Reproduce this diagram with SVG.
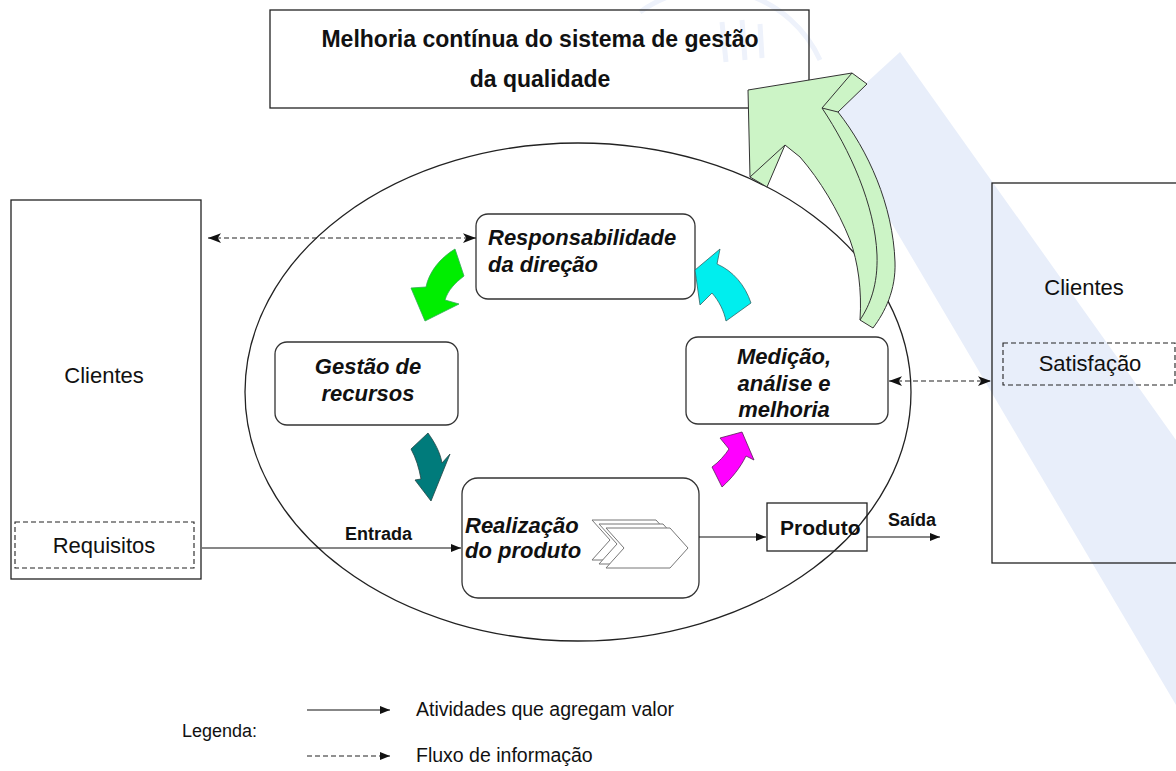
<svg xmlns="http://www.w3.org/2000/svg" width="1176" height="771" viewBox="0 0 1176 771">
<defs>
<style>
.box{fill:none;stroke:#222;stroke-width:1.3}
.rbox{fill:#fff;stroke:#333;stroke-width:1.3}
.dash{fill:none;stroke:#222;stroke-width:1.1;stroke-dasharray:5,3}
.line{fill:none;stroke:#111;stroke-width:1.2}
.t{font-family:"Liberation Sans",Arial,sans-serif;fill:#111}
.bi{font-family:"Liberation Sans",Arial,sans-serif;font-weight:bold;font-style:italic;font-size:22px;fill:#111}
.chev{fill:#fff;stroke:#777;stroke-width:1}
.wm{fill:none;stroke:#eef2fb;stroke-width:5}
</style>
<marker id="ah" viewBox="0 0 10 10" refX="10" refY="5" markerWidth="10" markerHeight="10" markerUnits="userSpaceOnUse" orient="auto-start-reverse">
<path d="M0,1 L10,5 L0,9 Z" fill="#111"/>
</marker>
<marker id="ah2" viewBox="0 0 12 10" refX="12" refY="5" markerWidth="13" markerHeight="11" markerUnits="userSpaceOnUse" orient="auto-start-reverse">
<path d="M0,0.5 L12,5 L0,9.5 L3,5 Z" fill="#111"/>
</marker>
</defs>

<rect x="0" y="0" width="1176" height="771" fill="#fff"/>
<!-- watermark -->
<polygon points="900,52 1176,440 1176,705 829,117" fill="#e8eefa"/>
<path class="wm" d="M640,12 A120,120 0 0 1 820,60"/>
<path class="wm" d="M722,22 L726,62 M742,20 L745,60 M760,24 L762,58"/>

<g id="melhoria">
<rect class="box" x="270" y="10" width="539" height="98"/>
<text class="t" x="540" y="47" font-size="23" font-weight="bold" text-anchor="middle">Melhoria contínua do sistema de gestão</text>
<text class="t" x="540" y="87" font-size="23" font-weight="bold" text-anchor="middle">da qualidade</text>
</g>

<g id="ciclo">
<ellipse cx="578" cy="392" rx="333" ry="249" fill="none" stroke="#222" stroke-width="1.3"/>
</g>

<g id="clientes-esq">
<rect class="box" x="11" y="200" width="190" height="379"/>
<text class="t" x="104" y="383" font-size="22" text-anchor="middle">Clientes</text>
<rect class="dash" x="15" y="522" width="179" height="46"/>
<text class="t" x="104" y="553" font-size="22" text-anchor="middle">Requisitos</text>
</g>

<g id="clientes-dir">
<rect class="box" x="992" y="183" width="200" height="380"/>
<text class="t" x="1084" y="295" font-size="22" text-anchor="middle">Clientes</text>
<rect class="dash" x="1003" y="343" width="172" height="42"/>
<text class="t" x="1090" y="371" font-size="22" text-anchor="middle">Satisfação</text>
</g>

<g id="responsabilidade">
<rect class="rbox" x="476" y="214" width="219" height="85" rx="12"/>
<text class="bi" x="488" y="245">Responsabilidade</text>
<text class="bi" x="488" y="272">da direção</text>
</g>

<g id="gestao">
<rect class="rbox" x="275" y="342" width="183" height="83" rx="12"/>
<text class="bi" x="368" y="374" text-anchor="middle">Gestão de</text>
<text class="bi" x="368" y="401" text-anchor="middle">recursos</text>
</g>

<g id="medicao">
<rect class="rbox" x="686" y="337" width="202" height="87" rx="12"/>
<text class="bi" x="784" y="364" text-anchor="middle">Medição,</text>
<text class="bi" x="784" y="391" text-anchor="middle">análise e</text>
<text class="bi" x="784" y="417" text-anchor="middle">melhoria</text>
</g>

<g id="realizacao">
<rect class="rbox" x="462" y="478" width="237" height="120" rx="16"/>
<text class="bi" x="465" y="533">Realização</text>
<text class="bi" x="465" y="558">do produto</text>
<path class="chev" d="M592,520 L656,520 L674,540 L656,560 L592,560 L610,540 Z"/>
<path class="chev" d="M599,524 L663,524 L681,544 L663,564 L599,564 L617,544 Z"/>
<path class="chev" d="M606,528 L670,528 L688,548 L670,568 L606,568 L624,548 Z"/>
</g>

<g id="produto">
<rect x="767" y="503" width="100" height="48" fill="none" stroke="#222" stroke-width="1.3"/>
<text class="t" x="780" y="535" font-size="21" font-weight="bold">Produto</text>
</g>

<g id="setas-ciclo">
<path d="M455,249 C440,258 429,272 426,287 L411,288 L425,321 L459,304 L445,300 C448,290 455,283 464,276 Z" fill="#00ee00" stroke="#3a5" stroke-width="0.8"/>
<path d="M720,249 L695,270 L700,305 L712,293 C719,301 724,311 726,321 L751,303 C745,285 733,271 717,264 Z" fill="#00eeee" stroke="#366" stroke-width="0.8"/>
<path d="M411,449 L428,433 C435,443 440,452 442,463 L450,454 L431,501 L415,480 L421,479 C419,468 416,458 411,449 Z" fill="#007b7b" stroke="#244" stroke-width="0.8"/>
<path d="M720,438 L742,432 L754,460 L746,456 C740,468 732,478 722,487 L712,467 C719,462 725,455 729,449 Z" fill="#ff00ff" stroke="#525" stroke-width="0.8"/>
</g>

<g id="seta-melhoria">
<path d="M748,90 L852,73 L867,84 L838,112 C868,150 893,205 895,262 C896,290 885,312 873,328 L860,320 C862,290 858,262 850,240 C838,210 820,180 800,157 L785,145 L767,187 L750,177 Z" fill="#ccf4c6" stroke="#333" stroke-width="1"/>
<path d="M852,73 L822,108 L838,112 M822,108 C850,150 875,205 877,255 C878,285 870,305 860,320 M750,177 L785,145" fill="none" stroke="#333" stroke-width="1"/>
</g>

<g id="conectores">
<line class="line" x1="202" y1="548" x2="461" y2="548" marker-end="url(#ah)"/>
<line class="line" x1="699" y1="537" x2="766" y2="537" marker-end="url(#ah)"/>
<line class="line" x1="867" y1="537" x2="940" y2="537" marker-end="url(#ah)"/>
<line class="dash" x1="208" y1="238" x2="476" y2="238" marker-start="url(#ah2)" marker-end="url(#ah2)"/>
<line class="dash" x1="889" y1="381" x2="991" y2="381" marker-start="url(#ah2)" marker-end="url(#ah2)"/>
<text class="t" x="345" y="540" font-size="18" font-weight="bold">Entrada</text>
<text class="t" x="888" y="526" font-size="18" font-weight="bold">Saída</text>
</g>

<g id="legenda">
<text class="t" x="182" y="737" font-size="18">Legenda:</text>
<line class="line" x1="307" y1="710" x2="390" y2="710" marker-end="url(#ah)"/>
<text class="t" x="416" y="716" font-size="19.5">Atividades que agregam valor</text>
<line class="dash" x1="307" y1="756" x2="390" y2="756" marker-end="url(#ah)"/>
<text class="t" x="416" y="762" font-size="19.5">Fluxo de informação</text>
</g>
</svg>
